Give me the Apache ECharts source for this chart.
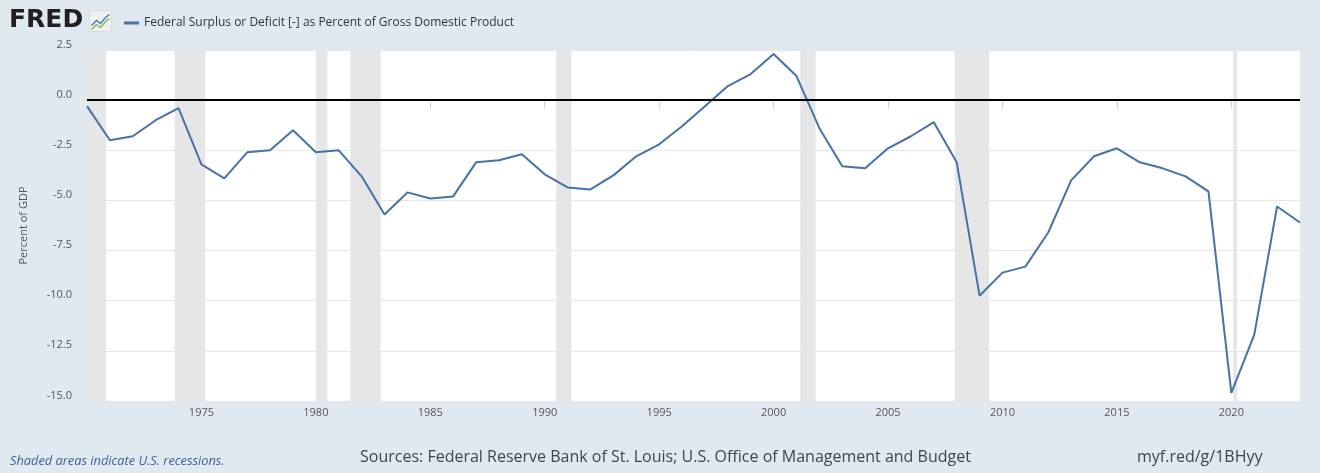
<!DOCTYPE html>
<html>
<head>
<meta charset="utf-8">
<script src="https://cdn.jsdelivr.net/npm/echarts@6/dist/echarts.min.js"></script>
<style>
html,body{margin:0;padding:0;background:#e1e9f0;}
#chart{width:1320px;height:473px;}
</style>
</head>
<body>
<div id="chart"></div>
<script>
// ---- data ----
var years = [1970,1971,1972,1973,1974,1975,1976,1977,1978,1979,1980,1981,1982,1983,1984,1985,1986,1987,1988,1989,1990,1991,1992,1993,1994,1995,1996,1997,1998,1999,2000,2001,2002,2003,2004,2005,2006,2007,2008,2009,2010,2011,2012,2013,2014,2015,2016,2017,2018,2019,2020,2021,2022,2023];
var deficitPct = [-0.3,-2.0,-1.8,-1.0,-0.4,-3.2,-3.9,-2.6,-2.5,-1.5,-2.6,-2.5,-3.8,-5.7,-4.6,-4.9,-4.8,-3.1,-3.0,-2.7,-3.7,-4.35,-4.45,-3.75,-2.8,-2.2,-1.3,-0.3,0.7,1.3,2.3,1.2,-1.4,-3.3,-3.4,-2.4,-1.8,-1.1,-3.1,-9.75,-8.6,-8.3,-6.6,-4.0,-2.8,-2.4,-3.1,-3.4,-3.8,-4.55,-14.6,-11.7,-5.3,-6.1];
var recessionStarts = ['1969-12','1973-11','1980-01','1981-07','1990-07','2001-03','2007-12','2020-02'];
var recessionEnds   = ['1970-11','1975-03','1980-07','1982-11','1991-03','2001-11','2009-06','2020-04'];
var xTicks = [1975,1980,1985,1990,1995,2000,2005,2010,2015,2020];
var yTicks = [2.5,0,-2.5,-5,-7.5,-10,-12.5,-15];
var seriesName = 'Federal Surplus or Deficit [-] as Percent of Gross Domestic Product';
var yAxisName = 'Percent of GDP';
var footLeft = 'Shaded areas indicate U.S. recessions.';
var footSource = 'Sources: Federal Reserve Bank of St. Louis; U.S. Office of Management and Budget';
var footLink = 'myf.red/g/1BHyy';

function ym(s){ var p = s.split('-'); return Math.max(1970, (+p[0]) + ((+p[1]) - 1) / 12); }

var points = years.map(function(y,i){ return [y, deficitPct[i]]; });
var areas = recessionStarts.map(function(s,i){ return [{xAxis: ym(s)}, {xAxis: ym(recessionEnds[i])}]; });

var chart = echarts.init(document.getElementById('chart'), null, {renderer:'canvas'});
chart.setOption({
  backgroundColor: '#e1e9f0',
  animation: false,
  textStyle: {fontFamily: 'Open Sans'},
  grid: {left: 87, right: 20, top: 50, bottom: 72, show: true, backgroundColor: '#ffffff', borderWidth: 0},
  legend: {
    left: 119, top: 12, icon: 'rect', itemWidth: 15, itemHeight: 3,
    textStyle: {fontSize: 12, color: '#333', fontFamily: 'Open Sans', fontWeight: 'normal'},
    data: [seriesName]
  },
  xAxis: {
    type: 'value', min: 1970, max: 2023, interval: 5,
    axisLine: {show: true, lineStyle: {color: '#ccd6eb'}},
    axisTick: {show: true, length: 9, lineStyle: {color: '#ccd6eb'}, customValues: xTicks},
    axisLabel: {color: '#555', fontSize: 11, margin: 6, customValues: xTicks, formatter: function(v){ return String(v); }},
    splitLine: {show: false}
  },
  yAxis: {
    type: 'value', min: -15, max: 2.5, interval: 2.5,
    name: yAxisName, nameLocation: 'middle', nameGap: 58, nameRotate: 90,
    nameTextStyle: {color: '#555', fontSize: 11},
    axisLine: {show: false}, axisTick: {show: false},
    axisLabel: {color: '#555', fontSize: 11, margin: 15, verticalAlign: 'bottom', customValues: yTicks,
      formatter: function(v){ return v.toFixed(1); }},
    splitLine: {show: true, lineStyle: {color: '#e6e6e6', width: 1}}
  },
  series: [{
    name: seriesName, type: 'line', data: points, showSymbol: false, symbol: 'none',
    lineStyle: {color: '#4572a7', width: 2}, itemStyle: {color: '#4572a7'},
    markArea: {silent: true, itemStyle: {color: '#e6e6e6'}, data: areas},
    markLine: {silent: true, symbol: 'none', label: {show: false},
      lineStyle: {color: '#000', width: 2, type: 'solid'}, data: [{yAxis: 0}]},
    z: 3
  }],
  graphic: [
    {type: 'text', left: 9, top: 8, z: 10, style: {text: 'FRED', font: '900 25px "DejaVu Sans"', fill: '#231f20'}},
    {type: 'group', left: 89, top: 10, z: 10, children: [
      {type: 'rect', shape: {x: 0, y: 0, width: 22, height: 21, r: 2}, style: {fill: '#eef0f2', stroke: '#d8dcdf', lineWidth: 1}},
      {type: 'polyline', shape: {points: [[2,15],[7,10],[11,13],[16,7],[20,4]]}, style: {stroke: '#4a7bb7', lineWidth: 1.5, fill: null}},
      {type: 'polyline', shape: {points: [[2,19],[7,14],[11,17],[16,11],[20,8]]}, style: {stroke: '#7cb342', lineWidth: 1.2, fill: null}}
    ]},
    {type: 'text', left: 10, top: 455, style: {text: footLeft, font: 'italic 12.8px "Open Sans"', fill: '#3a5f9c'}},
    {type: 'text', left: 360, top: 449, style: {text: footSource, font: '16px "Open Sans"', fill: '#444'}},
    {type: 'text', left: 1137, top: 449, style: {text: footLink, font: '16px "Open Sans"', fill: '#444'}}
  ]
});
</script>
</body>
</html>
